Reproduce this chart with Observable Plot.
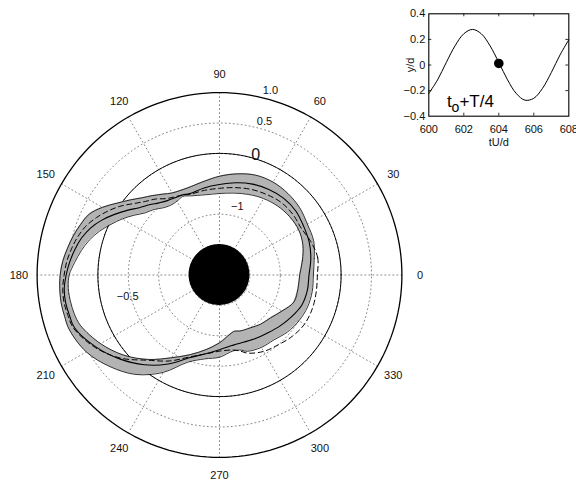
<!DOCTYPE html>
<html>
<head>
<meta charset="utf-8">
<script src="https://cdn.jsdelivr.net/npm/d3@7"></script>
<script src="https://cdn.jsdelivr.net/npm/@observablehq/plot@0.6"></script>
<style>
  html, body { margin: 0; padding: 0; background: #fff; overflow: hidden; }
  #wrap { position: relative; width: 576px; height: 483px; }
  #inset { position: absolute; left: 380px; top: 0px; }
  svg { overflow: visible; }
</style>
</head>
<body>
<div id="wrap"><div id="main"></div><div id="inset"></div></div>
<script>
// ---------- data (polar: angle in degrees, radius in axis units) ----------
const angles = [0,10,20,30,40,50,60,70,80,90,100,110,115,120,125,130,135,140,145,150,155,160,165,170,175,180,185,190,195,200,210,220,230,240,250,260,270,280,285,290,300,310,320,330,340,350];
const bandOuter = [-0.456,-0.418,-0.352,-0.330,-0.278,-0.250,-0.236,-0.253,-0.311,-0.376,-0.442,-0.475,-0.467,-0.442,-0.376,-0.294,-0.203,-0.080,0.060,0.225,0.365,0.431,0.489,0.538,0.588,0.621,0.637,0.645,0.637,0.629,0.530,0.347,0.136,-0.151,-0.474,-0.599,-0.648,-0.731,-0.723,-0.665,-0.624,-0.607,-0.541,-0.492,-0.459,-0.451];
const bandInner = [-0.681,-0.615,-0.541,-0.500,-0.500,-0.517,-0.549,-0.591,-0.632,-0.660,-0.660,-0.615,-0.574,-0.599,-0.599,-0.558,-0.475,-0.409,-0.286,-0.154,-0.030,0.102,0.217,0.308,0.390,0.472,0.497,0.489,0.472,0.431,0.258,0.052,-0.187,-0.429,-0.607,-0.756,-0.884,-1.011,-1.044,-1.019,-0.995,-0.945,-0.904,-0.813,-0.698,-0.690];
const meanLine = [-0.528,-0.475,-0.429,-0.401,-0.362,-0.355,-0.376,-0.409,-0.459,-0.512,-0.546,-0.574,-0.549,-0.533,-0.507,-0.451,-0.368,-0.278,-0.146,-0.006,0.135,0.258,0.349,0.415,0.472,0.522,0.563,0.571,0.555,0.538,0.357,0.146,-0.073,-0.309,-0.551,-0.685,-0.772,-0.821,-0.830,-0.826,-0.797,-0.759,-0.698,-0.629,-0.558,-0.533];
const dashedLine = [-0.390,-0.360,-0.401,-0.451,-0.434,-0.434,-0.467,-0.500,-0.541,-0.574,-0.586,-0.586,-0.549,-0.517,-0.467,-0.368,-0.286,-0.170,-0.022,0.110,0.233,0.341,0.415,0.472,0.522,0.555,0.588,0.596,0.580,0.555,0.373,0.126,-0.170,-0.368,-0.566,-0.681,-0.747,-0.747,-0.706,-0.632,-0.549,-0.500,-0.434,-0.385,-0.376,-0.385];

const angleTicks = [0,30,60,90,120,150,180,210,240,270,300,330];
const rCenter = -2;          // radial value at the pole
const rOuter = 1.0;          // outer circle value
const dottedRings = [0.5, 0, -0.5, -1, -1.5];
const solidRing = 0;
const diskRadius = -1.5;
const radialLabels = ["1.0", "0.5", "0", "\u22121", "\u22120.5"];

// inset data
const insetT = [600,600.5,601,601.5,602,602.5,603,603.5,604,604.5,605,605.5,606,606.5,607,607.5,608];
const insetY = [-0.223,-0.116,0.020,0.150,0.244,0.278,0.244,0.150,0.020,-0.116,-0.223,-0.275,-0.260,-0.182,-0.059,0.079,0.197];
const markerT = 604, markerY = 0.012;
const insetXTicks = [600,602,604,606,608];
const insetYTicks = [-0.4,-0.2,0,0.2,0.4];

// ---------- layout ----------
const W = 576, H = 483, PX = 60.8, CX = 219, CY = 274.5;
const FONT = "'Liberation Sans', Arial, Helvetica, sans-serif";
const rad = a => a * Math.PI / 180;
const ux = (v, a) => (v - rCenter) * Math.cos(rad(a));
const uy = (v, a) => (v - rCenter) * Math.sin(rad(a));

const rows = angles.map((a, i) => ({a, outer: bandOuter[i], inner: bandInner[i], mean: meanLine[i], dashed: dashedLine[i]}));
const n = rows.length;
const wrapRows = [rows[n - 2], rows[n - 1], ...rows, rows[0], rows[1]];

const circA = d3.range(0, 361, 2);
const ringPts = dottedRings.flatMap(v => circA.map(a => ({v, a})));
const spokePts = [0, 30, 60, 90, 120, 150].flatMap(a => [{a, s: a}, {a: a + 180, s: a}]);

// radial label placement (polar position in the picture)
const radialLabelPos = [
  {r: 3.151, a: 74.6, size: 11},
  {r: 2.633, a: 73.7, size: 11},
  {r: 2.058, a: 73.2, size: 16},
  {r: 1.168, a: 75.5, size: 11},
  {r: 1.551, a: 193.2, size: 11}
];
const radialLabelRows = radialLabels.map((t, i) => ({t, ...radialLabelPos[i]}));

const main = Plot.plot({
  width: W, height: H, margin: 0,
  style: {background: "transparent", fontFamily: FONT},
  x: {domain: [-CX / PX, (W - CX) / PX], axis: null},
  y: {domain: [-(H - CY) / PX, CY / PX], axis: null},
  marks: [
    // spokes
    Plot.line(spokePts, {x: d => ux(rOuter, d.a), y: d => uy(rOuter, d.a), z: "s", stroke: "#555", strokeWidth: 0.7, strokeDasharray: "1,3"}),
    // dotted rings
    Plot.line(ringPts, {x: d => ux(d.v, d.a), y: d => uy(d.v, d.a), z: "v", stroke: "#555", strokeWidth: 0.7, strokeDasharray: "1,3"}),
    // solid ring at 0
    Plot.line(circA, {x: a => ux(solidRing, a), y: a => uy(solidRing, a), stroke: "black", strokeWidth: 1}),
    // outer ring
    Plot.line(circA, {x: a => ux(rOuter, a), y: a => uy(rOuter, a), stroke: "black", strokeWidth: 1.3}),
    // band fill
    Plot.area(wrapRows, {x1: d => ux(d.outer, d.a), y1: d => uy(d.outer, d.a), x2: d => ux(d.inner, d.a), y2: d => uy(d.inner, d.a), fill: "#b3b3b3", curve: "catmull-rom"}),
    // band outlines
    Plot.line(rows, {x: d => ux(d.outer, d.a), y: d => uy(d.outer, d.a), curve: "catmull-rom-closed", stroke: "black", strokeWidth: 0.8}),
    Plot.line(rows, {x: d => ux(d.inner, d.a), y: d => uy(d.inner, d.a), curve: "catmull-rom-closed", stroke: "black", strokeWidth: 0.8}),
    // mean (solid) line
    Plot.line(rows, {x: d => ux(d.mean, d.a), y: d => uy(d.mean, d.a), curve: "catmull-rom-closed", stroke: "black", strokeWidth: 1.1}),
    // dashed line
    Plot.line(rows, {x: d => ux(d.dashed, d.a), y: d => uy(d.dashed, d.a), curve: "catmull-rom-closed", stroke: "black", strokeWidth: 1, strokeDasharray: "5,3.5"}),
    // black disk
    Plot.area(circA, {x1: 0, y1: 0, x2: a => ux(diskRadius, a), y2: a => uy(diskRadius, a), fill: "black"}),
    // angle labels
    Plot.text(angleTicks, {x: a => 3.3 * Math.cos(rad(a)), y: a => 3.3 * Math.sin(rad(a)), text: a => String(a), fontSize: 11, fill: "#111", textAnchor: "middle", lineAnchor: "middle"}),
    // radial labels
    Plot.text(radialLabelRows, {x: d => d.r * Math.cos(rad(d.a)), y: d => d.r * Math.sin(rad(d.a)), text: "t", fontSize: d => d.size, fill: "#111", textAnchor: "middle", lineAnchor: "middle"})
  ]
});
document.getElementById("main").appendChild(main);

// ---------- inset ----------
const yFmt = d => d === 0 ? "0" : d3.format(".1f")(d);
const ipx = 3 / 17.5, ipy = 3 / 128;
const inset = Plot.plot({
  width: 196, height: 150,
  marginLeft: 48.3, marginRight: 7.7, marginTop: 13.3, marginBottom: 34.3,
  style: {background: "transparent", fontFamily: FONT, fontSize: "11px", color: "#111", overflow: "visible"},
  x: {domain: [600, 608], ticks: insetXTicks, tickSize: 0, tickPadding: 9, tickFormat: d3.format("d"), label: null},
  y: {domain: [-0.4, 0.4], ticks: insetYTicks, tickSize: 0, tickPadding: 3.5, tickFormat: yFmt, label: null},
  marks: [
    Plot.ruleX(insetXTicks.slice(1, -1), {y1: 0.4, y2: 0.4 - ipy, stroke: "black", strokeWidth: 0.8}),
    Plot.ruleX(insetXTicks.slice(1, -1), {y1: -0.4, y2: -0.4 + ipy, stroke: "black", strokeWidth: 0.8}),
    Plot.ruleY(insetYTicks.slice(1, -1), {x1: 600, x2: 600 + ipx, stroke: "black", strokeWidth: 0.8}),
    Plot.ruleY(insetYTicks.slice(1, -1), {x1: 608, x2: 608 - ipx, stroke: "black", strokeWidth: 0.8}),
    Plot.line(insetT.map((t, i) => ({t, y: insetY[i]})), {x: "t", y: "y", curve: "catmull-rom", stroke: "black", strokeWidth: 1}),
    Plot.dot([{t: markerT, y: markerY}], {x: "t", y: "y", r: 4.8, fill: "black", stroke: "none"}),
    Plot.frame({stroke: "black", strokeWidth: 1.1}),
    Plot.text(["tU/d"], {x: 604, y: -0.4, dy: 26.5, fontSize: 11, fill: "#111", lineAnchor: "middle"}),
    Plot.text(["y/d"], {x: 600, y: 0, dx: -18.5, rotate: -90, fontSize: 11, fill: "#111", lineAnchor: "middle"}),
    Plot.text(["t"], {x: 600, y: -0.4, dx: 18.2, dy: -9.7, fontSize: 17, fill: "#000", textAnchor: "start", lineAnchor: "bottom"}),
    Plot.text(["o"], {x: 600, y: -0.4, dx: 22.8, dy: -4.2, fontSize: 14, fill: "#000", textAnchor: "start", lineAnchor: "bottom"}),
    Plot.text(["+T/4"], {x: 600, y: -0.4, dx: 30.6, dy: -9.7, fontSize: 17, fill: "#000", textAnchor: "start", lineAnchor: "bottom"})
  ]
});
document.getElementById("inset").appendChild(inset);
</script>
</body>
</html>
